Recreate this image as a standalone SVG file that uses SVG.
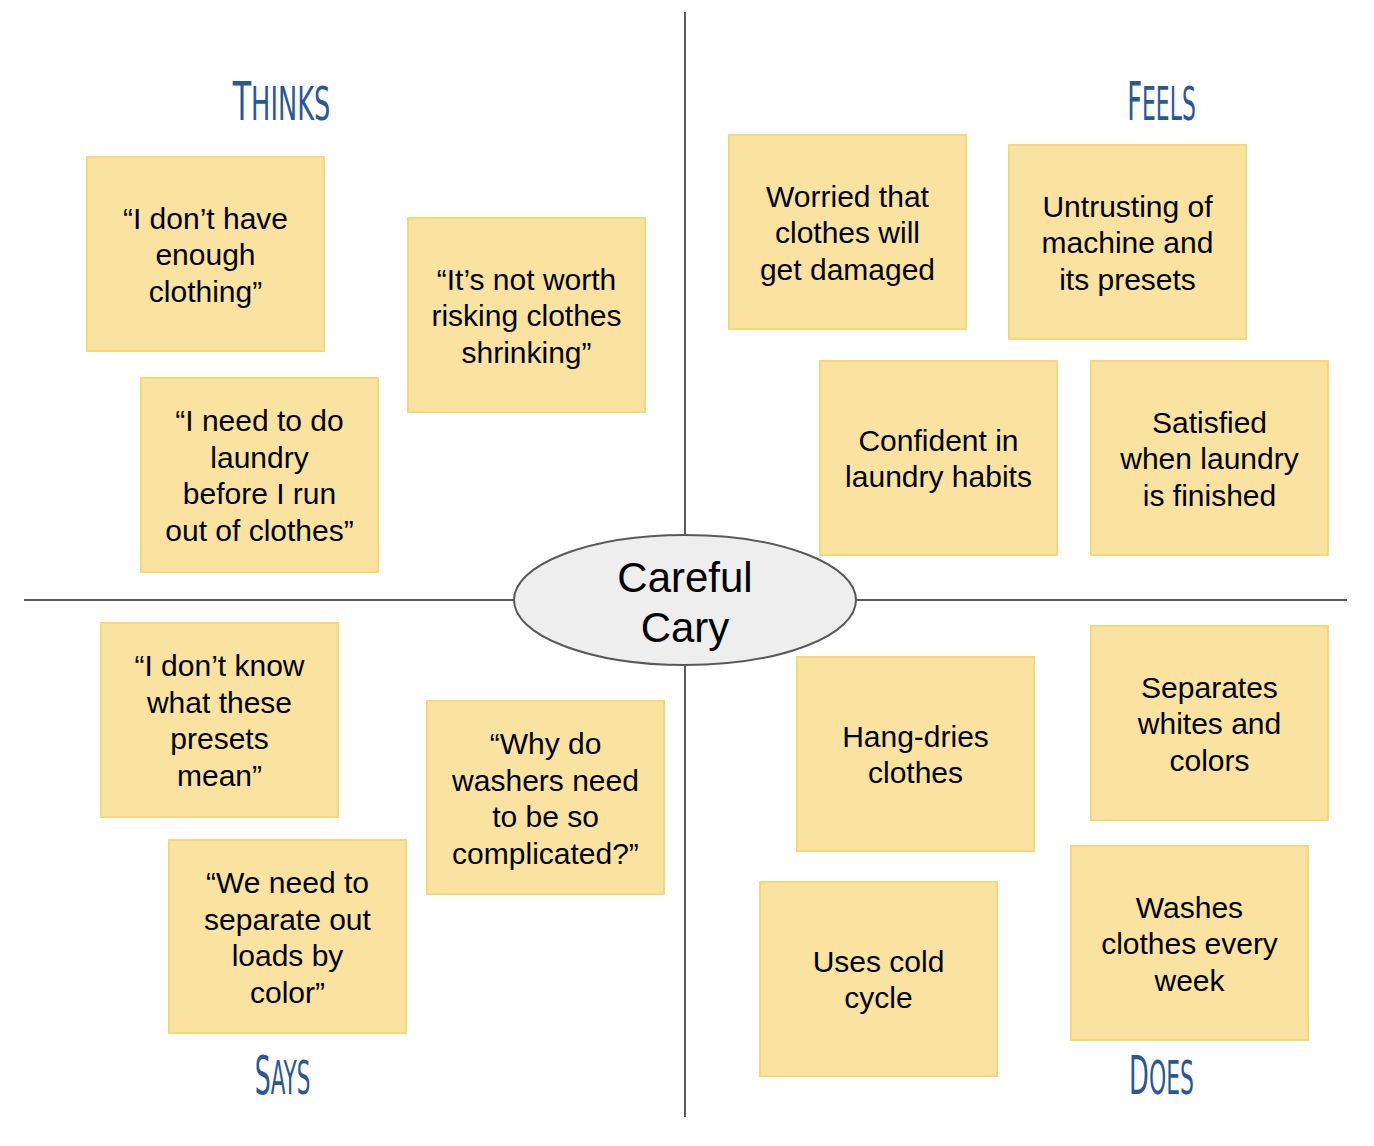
<svg xmlns="http://www.w3.org/2000/svg" width="1374" height="1146" viewBox="0 0 1374 1146">
<style>
.note{fill:#fae3a0;stroke:#f6d77a;stroke-width:2}
.nt{font-family:"Liberation Sans",Arial,sans-serif;font-size:30px;fill:#000;text-anchor:middle}
.ln{stroke:#595959;stroke-width:2;fill:none}
.hd{font-family:"Liberation Sans Narrow","DejaVu Sans Condensed",sans-serif;fill:#2b5797;text-anchor:middle}
.big{font-size:54px}
.sm{font-size:46px}
</style>
<rect width="1374" height="1146" fill="#fff"/>
<g id="connectors">
<line class="ln" x1="685" y1="12" x2="685" y2="535"/>
<line class="ln" x1="685" y1="665" x2="685" y2="1117"/>
<line class="ln" x1="24" y1="600" x2="514" y2="600"/>
<line class="ln" x1="856" y1="600" x2="1347" y2="600"/>
</g>
<g id="headings">
<text class="hd" transform="translate(281.5,120) scale(0.62,1)"><tspan class="big">T</tspan><tspan class="sm">HINKS</tspan></text>
<text class="hd" transform="translate(1161.5,120) scale(0.53,1)"><tspan class="big">F</tspan><tspan class="sm">EELS</tspan></text>
<text class="hd" transform="translate(282.5,1094) scale(0.52,1)"><tspan class="big">S</tspan><tspan class="sm">AYS</tspan></text>
<text class="hd" transform="translate(1161.5,1094) scale(0.53,1)"><tspan class="big">D</tspan><tspan class="sm">OES</tspan></text>
</g>
<g id="center">
<ellipse cx="685" cy="600" rx="171" ry="65" fill="#eeeeee" stroke="#595959" stroke-width="2"/>
<text x="685" y="592" font-family="Liberation Sans,Arial,sans-serif" font-size="42" text-anchor="middle">Careful</text>
<text x="685" y="642" font-family="Liberation Sans,Arial,sans-serif" font-size="42" text-anchor="middle">Cary</text>
</g>
<g id="n1"><rect class="note" x="87" y="157" width="237" height="194"/>
<text class="nt" x="205.5"><tspan x="205.5" y="228.5">“I don’t have</tspan><tspan x="205.5" y="265">enough</tspan><tspan x="205.5" y="301.5">clothing”</tspan></text></g>
<g id="n2"><rect class="note" x="408" y="218" width="237" height="194"/>
<text class="nt"><tspan x="526.5" y="289.5">“It’s not worth</tspan><tspan x="526.5" y="326">risking clothes</tspan><tspan x="526.5" y="362.5">shrinking”</tspan></text></g>
<g id="n3"><rect class="note" x="141" y="378" width="237" height="194"/>
<text class="nt"><tspan x="259.5" y="431.25">“I need to do</tspan><tspan x="259.5" y="467.75">laundry</tspan><tspan x="259.5" y="504.25">before I run</tspan><tspan x="259.5" y="540.75">out of clothes”</tspan></text></g>
<g id="n4"><rect class="note" x="729" y="135" width="237" height="194"/>
<text class="nt"><tspan x="847.5" y="206.5">Worried that</tspan><tspan x="847.5" y="243">clothes will</tspan><tspan x="847.5" y="279.5">get damaged</tspan></text></g>
<g id="n5"><rect class="note" x="1009" y="145" width="237" height="194"/>
<text class="nt"><tspan x="1127.5" y="216.5">Untrusting of</tspan><tspan x="1127.5" y="253">machine and</tspan><tspan x="1127.5" y="289.5">its presets</tspan></text></g>
<g id="n6"><rect class="note" x="820" y="361" width="237" height="194"/>
<text class="nt"><tspan x="938.5" y="450.75">Confident in</tspan><tspan x="938.5" y="487.25">laundry habits</tspan></text></g>
<g id="n7"><rect class="note" x="1091" y="361" width="237" height="194"/>
<text class="nt"><tspan x="1209.5" y="432.5">Satisfied</tspan><tspan x="1209.5" y="469">when laundry</tspan><tspan x="1209.5" y="505.5">is finished</tspan></text></g>
<g id="n8"><rect class="note" x="101" y="623" width="237" height="194"/>
<text class="nt"><tspan x="219.5" y="676.25">“I don’t know</tspan><tspan x="219.5" y="712.75">what these</tspan><tspan x="219.5" y="749.25">presets</tspan><tspan x="219.5" y="785.75">mean”</tspan></text></g>
<g id="n9"><rect class="note" x="427" y="701" width="237" height="193"/>
<text class="nt"><tspan x="545.5" y="754">“Why do</tspan><tspan x="545.5" y="790.5">washers need</tspan><tspan x="545.5" y="827">to be so</tspan><tspan x="545.5" y="863.5">complicated?”</tspan></text></g>
<g id="n10"><rect class="note" x="169" y="840" width="237" height="193"/>
<text class="nt"><tspan x="287.5" y="893">“We need to</tspan><tspan x="287.5" y="929.5">separate out</tspan><tspan x="287.5" y="966">loads by</tspan><tspan x="287.5" y="1002.5">color”</tspan></text></g>
<g id="n11"><rect class="note" x="797" y="657" width="237" height="194"/>
<text class="nt"><tspan x="915.5" y="746.75">Hang-dries</tspan><tspan x="915.5" y="783.25">clothes</tspan></text></g>
<g id="n12"><rect class="note" x="1091" y="626" width="237" height="194"/>
<text class="nt"><tspan x="1209.5" y="697.5">Separates</tspan><tspan x="1209.5" y="734">whites and</tspan><tspan x="1209.5" y="770.5">colors</tspan></text></g>
<g id="n13"><rect class="note" x="760" y="882" width="237" height="194"/>
<text class="nt"><tspan x="878.5" y="971.75">Uses cold</tspan><tspan x="878.5" y="1008.25">cycle</tspan></text></g>
<g id="n14"><rect class="note" x="1071" y="846" width="237" height="194"/>
<text class="nt"><tspan x="1189.5" y="917.5">Washes</tspan><tspan x="1189.5" y="954">clothes every</tspan><tspan x="1189.5" y="990.5">week</tspan></text></g>
</svg>
